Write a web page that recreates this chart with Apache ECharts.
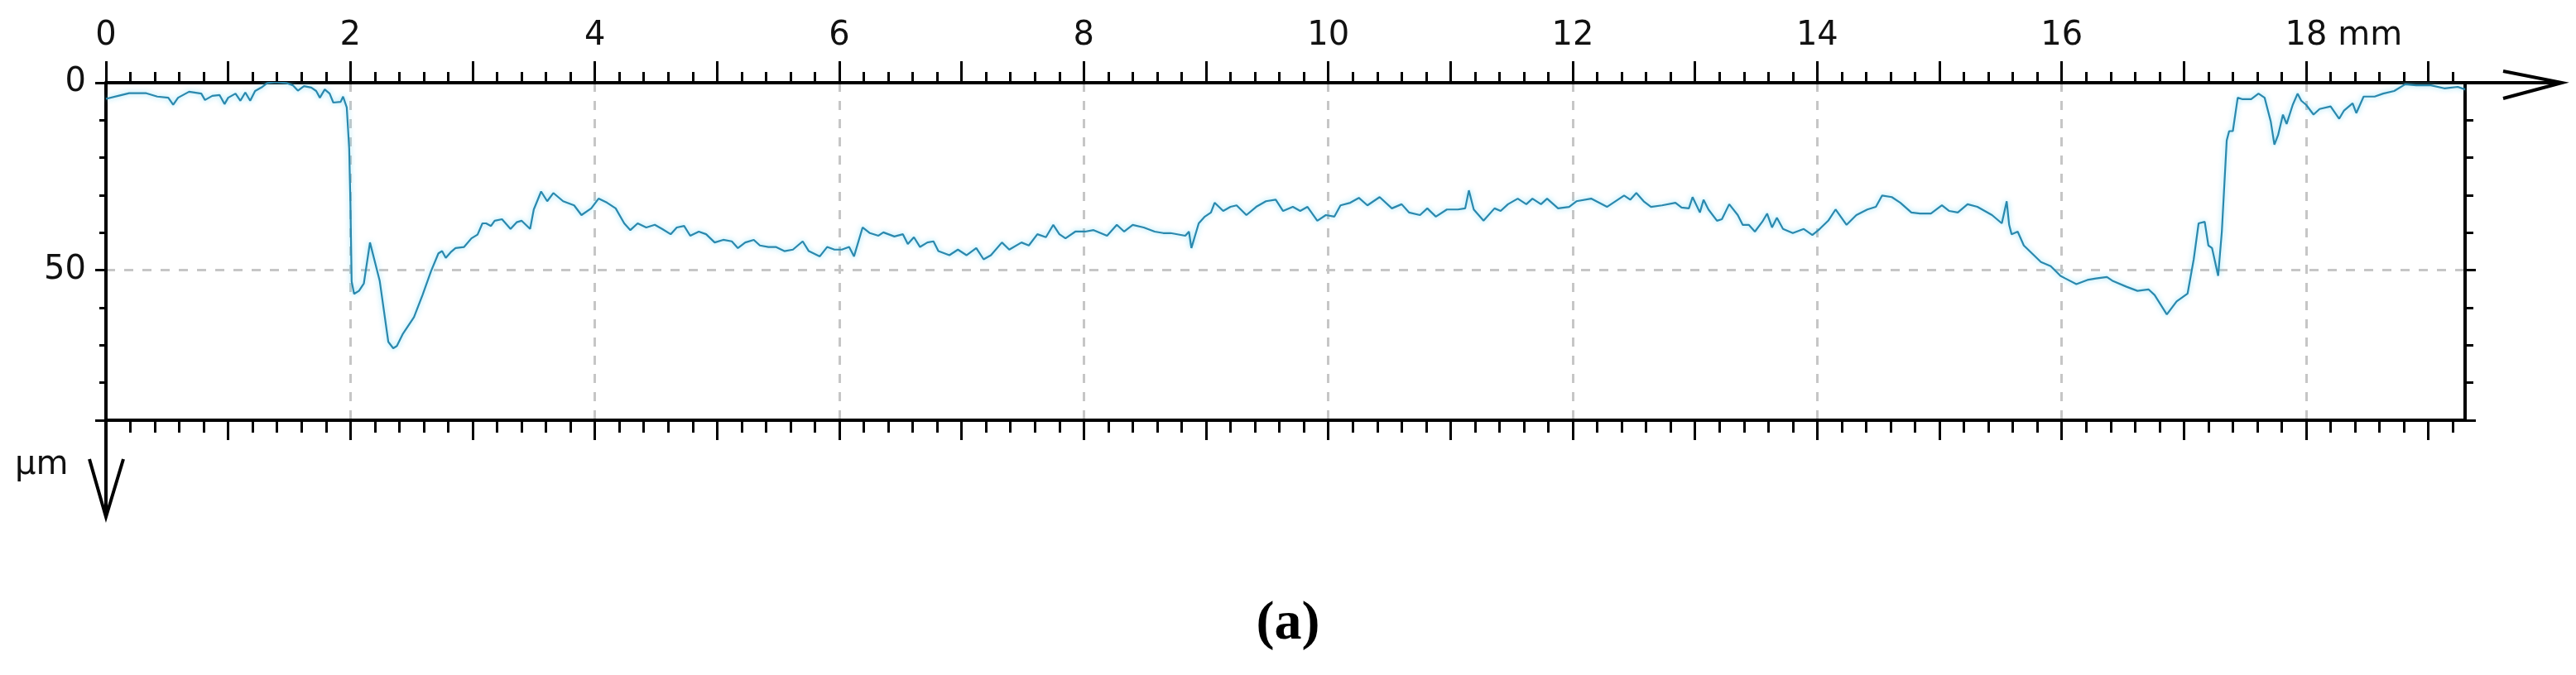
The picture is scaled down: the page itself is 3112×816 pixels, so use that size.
<!DOCTYPE html>
<html><head><meta charset="utf-8">
<script src="https://cdn.jsdelivr.net/npm/echarts@6/dist/echarts.min.js"></script>
<style>html,body{margin:0;padding:0;background:#fff}#c{width:3112px;height:816px}</style>
</head><body><div id="c"></div>
<script>
// ---- data ----
const positionMm = [
0.00,0.10,0.19,0.33,0.42,0.51,0.55,0.59,0.68,0.78,0.81,0.87,0.93,0.97,1.00,1.06,1.10,1.14,1.18,1.22,
1.28,1.32,1.39,1.48,1.53,1.57,1.62,1.68,1.72,1.75,1.79,1.83,1.86,1.92,1.94,1.97,1.99,2.00,2.01,2.03,
2.07,2.11,2.16,2.24,2.31,2.35,2.38,2.43,2.52,2.59,2.66,2.72,2.75,2.78,2.82,2.86,2.93,2.99,3.04,3.08,
3.11,3.15,3.18,3.24,3.31,3.36,3.40,3.47,3.50,3.56,3.61,3.66,3.74,3.83,3.89,3.97,4.03,4.10,4.17,4.24,
4.29,4.35,4.42,4.49,4.55,4.62,4.67,4.73,4.78,4.85,4.91,4.98,5.05,5.12,5.17,5.23,5.30,5.35,5.42,5.48,
5.55,5.62,5.70,5.75,5.84,5.90,5.96,6.02,6.08,6.12,6.19,6.25,6.32,6.36,6.45,6.52,6.56,6.61,6.66,6.72,
6.77,6.81,6.90,6.97,7.04,7.12,7.18,7.24,7.33,7.39,7.49,7.55,7.62,7.69,7.75,7.80,7.85,7.93,8.01,8.08,
8.19,8.27,8.33,8.40,8.49,8.58,8.65,8.71,8.83,8.86,8.88,8.94,8.99,9.04,9.07,9.14,9.20,9.25,9.33,9.41,
9.49,9.57,9.63,9.71,9.77,9.83,9.91,9.98,10.05,10.10,10.18,10.25,10.32,10.42,10.52,10.60,10.66,10.75,10.81,10.88,
10.97,11.06,11.12,11.15,11.19,11.27,11.36,11.41,11.47,11.55,11.62,11.67,11.74,11.79,11.88,11.97,12.03,12.15,12.28,12.42,
12.47,12.52,12.58,12.64,12.73,12.84,12.89,12.95,12.98,13.04,13.07,13.11,13.18,13.22,13.28,13.35,13.39,13.44,13.49,13.55,
13.59,13.63,13.67,13.72,13.80,13.89,13.96,14.02,14.09,14.15,14.24,14.32,14.41,14.48,14.53,14.61,14.68,14.77,14.84,14.93,
15.02,15.08,15.15,15.23,15.31,15.43,15.51,15.55,15.57,15.59,15.64,15.69,15.76,15.83,15.91,15.99,16.03,16.12,16.21,16.28,
16.37,16.42,16.53,16.62,16.71,16.76,16.86,16.94,17.03,17.08,17.12,17.17,17.20,17.23,17.28,17.31,17.35,17.37,17.40,17.44,
17.48,17.55,17.61,17.66,17.71,17.74,17.77,17.81,17.84,17.89,17.93,17.96,18.00,18.06,18.11,18.20,18.27,18.31,18.38,18.41,
18.47,18.56,18.63,18.72,18.81,18.90,19.02,19.13,19.24,19.30
];
const depthUm = [
4.3,3.5,2.8,2.8,3.7,4.0,5.9,4.0,2.4,2.9,4.6,3.5,3.3,5.7,4.0,2.9,4.8,2.6,4.8,2.2,
1.1,0.1,-0.2,0.1,0.7,2.1,0.9,1.3,2.2,4.0,1.8,2.9,5.3,5.1,3.7,6.6,17.6,32.0,53.0,56.3,
55.5,53.5,42.6,52.9,69.1,70.8,70.2,66.9,62.5,56.6,50.2,45.5,44.9,46.7,45.2,44.1,43.8,41.5,40.5,37.5,
37.5,38.2,36.8,36.4,39.0,37.2,36.8,39.0,33.8,29.0,31.6,29.4,31.6,32.7,35.3,33.5,30.9,32.0,33.5,37.5,
39.3,37.5,38.6,37.9,39.0,40.4,38.6,38.2,40.8,39.7,40.4,42.6,41.9,42.3,44.1,42.6,41.9,43.4,43.8,43.8,
44.9,44.5,42.3,44.9,46.3,43.8,44.5,44.5,43.8,46.3,38.6,40.1,40.8,39.9,41.0,40.4,43.0,41.2,43.8,42.6,
42.3,44.9,46.0,44.5,46.0,44.1,47.1,46.0,42.6,44.5,42.6,43.4,40.4,41.2,37.9,40.4,41.5,39.7,39.7,39.3,
40.8,37.9,39.7,37.9,38.6,39.7,40.1,40.1,40.8,39.7,44.1,37.5,35.7,34.6,32.0,34.2,33.1,32.7,35.3,33.1,
31.6,31.2,34.2,33.1,34.2,33.1,36.8,35.3,35.7,32.7,32.0,30.7,32.7,30.5,33.5,32.4,34.6,35.3,33.5,35.7,
33.8,33.8,33.5,28.7,33.8,36.8,33.5,34.2,32.4,30.9,32.4,30.9,32.4,30.9,33.5,33.1,31.6,30.9,33.1,30.1,
31.2,29.4,31.6,33.1,32.7,32.0,33.3,33.5,30.5,34.6,31.2,33.8,36.8,36.4,32.4,35.3,37.9,37.9,39.7,37.1,
34.9,38.6,36.0,39.0,40.1,39.0,40.6,39.0,36.8,33.8,37.9,35.3,33.8,33.1,30.1,30.5,32.0,34.6,34.9,34.9,
32.7,34.2,34.6,32.4,33.1,35.3,37.5,31.6,37.9,40.4,39.7,43.4,45.6,47.8,48.9,51.5,52.2,53.7,52.6,52.2,
51.8,52.9,54.4,55.5,55.1,56.6,61.8,58.3,56.2,47.1,37.5,37.1,43.4,44.1,51.5,39.7,15.4,12.9,12.9,4.0,
4.4,4.4,2.9,4.0,10.3,16.5,14.0,8.5,11.0,5.9,2.9,4.8,5.9,8.5,7.0,6.3,9.6,7.4,5.5,8.1,
3.7,3.7,2.9,2.2,0.4,0.7,0.7,1.5,1.1,1.8
];
const xMajorTicks = [0,1,2,3,4,5,6,7,8,9,10,11,12,13,14,15,16,17,18,19];
const xLabelValues = [0,2,4,6,8,10,12,14,16,18];
const yLabelValues = [0,50];
const xUnit = 'mm';
const yUnit = 'µm';
const caption = '(a)';
const X_MAX = 19.3, Y_MAX = 90;

// ---- style ----
const FONT = '"DejaVu Sans", Verdana, sans-serif';
const FS = 40;
const INK = '#111';
const xMinorTicks = [];
for (let i = 0; i <= 96; i++) xMinorTicks.push(Math.round(i * 2) / 10);

const ctx = document.createElement('canvas').getContext('2d');
ctx.font = FS + 'px ' + FONT;
const unitW = ctx.measureText(' ' + xUnit).width;

const gridDash = {color: '#c6c6c6', width: 3, type: [11, 11]};
const axisLineStyle = {show: true, onZero: false, lineStyle: {color: '#000', width: 4}};
const noLine = {show: false, onZero: false};

function xAxisDef(pos, ticks, len, extra) {
  return Object.assign({
    type: 'value', position: pos, min: 0, max: X_MAX,
    axisLine: noLine,
    axisTick: {show: true, inside: false, length: len, customValues: ticks, lineStyle: {color: '#000', width: 3}},
    axisLabel: {show: false},
    splitLine: {show: false}
  }, extra || {});
}
function yAxisDef(pos, interval, len, extra) {
  return Object.assign({
    type: 'value', position: pos, inverse: true, min: 0, max: Y_MAX, interval: interval,
    axisLine: noLine,
    axisTick: {show: true, inside: false, length: len, lineStyle: {color: '#000', width: 3}},
    axisLabel: {show: false},
    splitLine: {show: false}
  }, extra || {});
}

const chart = echarts.init(document.getElementById('c'), null, {renderer: 'canvas'});
chart.setOption({
  animation: false,
  backgroundColor: '#fff',
  title: [
    {text: yUnit, left: 18, top: 543, padding: 0,
     textStyle: {fontFamily: FONT, fontSize: FS, fontWeight: 'normal', color: INK}},
    {text: caption, left: 'center', top: 722, padding: 0,
     textStyle: {fontFamily: '"Liberation Serif", "Times New Roman", serif', fontSize: 66, fontWeight: 'bold', color: '#000'}}
  ],
  grid: {left: 128, top: 100, width: 2850, height: 408, containLabel: false, outerBoundsMode: 'none'},
  xAxis: [
    xAxisDef('top', xMajorTicks, 26, {
      axisLine: axisLineStyle,
      axisLabel: {show: true, customValues: xLabelValues, margin: 36, color: INK,
        fontFamily: FONT, fontSize: FS,
        formatter: v => v === 18 ? '{u|18 ' + xUnit + '}' : String(v),
        rich: {u: {fontFamily: FONT, fontSize: FS, color: INK, padding: [0, 0, 0, unitW]}}}
    }),
    xAxisDef('top', xMinorTicks, 13),
    xAxisDef('bottom', xMajorTicks, 24, {axisLine: axisLineStyle}),
    xAxisDef('bottom', xMinorTicks, 15),
    {type: 'value', position: 'bottom', min: 0, max: X_MAX, interval: 2,
     axisLine: noLine, axisTick: {show: false}, axisLabel: {show: false},
     splitLine: {show: true, showMinLine: false, showMaxLine: false, lineStyle: gridDash}}
  ],
  yAxis: [
    yAxisDef('left', 50, 13, {
      axisLine: axisLineStyle,
      axisLabel: {show: true, margin: 24, color: INK, fontFamily: FONT, fontSize: FS,
        formatter: v => yLabelValues.indexOf(v) >= 0 ? String(v) : ''},
      splitLine: {show: true, showMinLine: false, showMaxLine: false, lineStyle: gridDash}
    }),
    yAxisDef('left', 10, 8),
    yAxisDef('right', 10, 10, {axisLine: axisLineStyle}),
    yAxisDef('right', 50, 13)
  ],
  series: [{
    type: 'line', xAxisIndex: 0, yAxisIndex: 0,
    data: positionMm.map((x, i) => [x, depthUm[i]]),
    showSymbol: false, smooth: false, z: 5,
    lineStyle: {color: '#2a88ad', width: 2.2, shadowColor: 'rgba(110,215,245,0.85)', shadowBlur: 6}
  }]
});

// axis arrow extensions, anchored to the grid corners through the axes
const tr = chart.convertToPixel({xAxisIndex: 0, yAxisIndex: 0}, [X_MAX, 0]);
const bl = chart.convertToPixel({xAxisIndex: 0, yAxisIndex: 0}, [0, Y_MAX]);
const ext = 117;
const arrowStyle = {stroke: '#000', lineWidth: 4, fill: null, lineJoin: 'miter'};
chart.setOption({graphic: [
  {type: 'line', shape: {x1: tr[0], y1: tr[1], x2: tr[0] + ext, y2: tr[1]}, style: {stroke: '#000', lineWidth: 4}},
  {type: 'polyline', shape: {points: [[tr[0] + 46, tr[1] - 14], [tr[0] + ext, tr[1]], [tr[0] + 46, tr[1] + 19]]}, style: arrowStyle},
  {type: 'line', shape: {x1: bl[0], y1: bl[1], x2: bl[0], y2: bl[1] + ext}, style: {stroke: '#000', lineWidth: 4}},
  {type: 'polyline', shape: {points: [[bl[0] - 20, bl[1] + 47], [bl[0], bl[1] + ext], [bl[0] + 21, bl[1] + 47]]}, style: arrowStyle}
]});
</script>
</body></html>
